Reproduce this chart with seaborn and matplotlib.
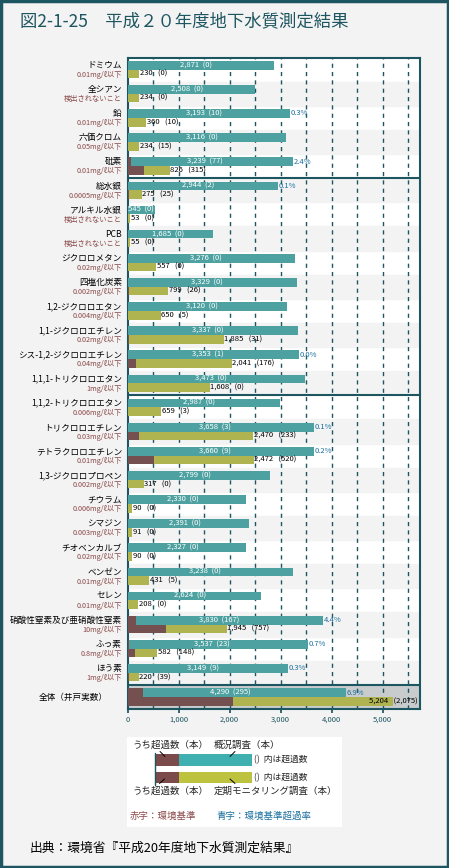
import matplotlib.pyplot as plt
import matplotlib.patches as mpatches
from matplotlib.transforms import blended_transform_factory
import seaborn as sns
import pandas as pd

names = ["ドミウム", "全シアン", "鉛", "六価クロム", "砒素", "総水銀", "アルキル水銀", "PCB",
         "ジクロロメタン", "四塩化炭素", "1,2-ジクロロエタン", "1,1-ジクロロエチレン",
         "シス-1,2-ジクロロエチレン", "1,1,1-トリクロロエタン", "1,1,2-トリクロロエタン",
         "トリクロロエチレン", "テトラクロロエチレン", "1,3-ジクロロプロペン", "チウラム",
         "シマジン", "チオベンカルブ", "ベンゼン", "セレン", "硝酸性窒素及び亜硝酸性窒素",
         "ふっ素", "ほう素", "全体（井戸実数）"]
standards = ["0.01mg/ℓ以下", "検出されないこと", "0.01mg/ℓ以下", "0.05mg/ℓ以下", "0.01mg/ℓ以下",
             "0.0005mg/ℓ以下", "検出されないこと", "検出されないこと", "0.02mg/ℓ以下",
             "0.002mg/ℓ以下", "0.004mg/ℓ以下", "0.02mg/ℓ以下", "0.04mg/ℓ以下", "1mg/ℓ以下",
             "0.006mg/ℓ以下", "0.03mg/ℓ以下", "0.01mg/ℓ以下", "0.002mg/ℓ以下", "0.006mg/ℓ以下",
             "0.003mg/ℓ以下", "0.02mg/ℓ以下", "0.01mg/ℓ以下", "0.01mg/ℓ以下", "10mg/ℓ以下",
             "0.8mg/ℓ以下", "1mg/ℓ以下", ""]
survey = [2871, 2508, 3193, 3116, 3239, 2944, 545, 1685, 3276, 3329, 3120, 3337, 3353, 3473,
          2987, 3658, 3660, 2799, 2330, 2391, 2327, 3238, 2624, 3830, 3537, 3149, 4290]
survey_over = [0, 0, 10, 0, 77, 2, 0, 0, 0, 0, 0, 0, 1, 0, 0, 3, 9, 0, 0, 0, 0, 0, 0, 167, 23, 9, 295]
monitor = [230, 234, 360, 234, 826, 275, 53, 55, 557, 799, 650, 1885, 2041, 1608, 659, 2470, 2472,
           317, 90, 91, 90, 431, 208, 1945, 582, 220, 5204]
monitor_over = [0, 0, 10, 15, 315, 25, 0, 0, 0, 26, 5, 31, 176, 0, 3, 233, 520, 0, 0, 0, 0, 5, 0,
                757, 148, 39, 2075]
rates = ["", "", "0.3%", "", "2.4%", "0.1%", "", "", "", "", "", "", "0.0%", "", "", "0.1%", "0.2%",
         "", "", "", "", "", "", "4.4%", "0.7%", "0.3%", "6.9%"]

TEAL = "#40afaf"
OLIVE = "#bec33f"
BROWN = "#7b4a4a"
DARK = "#1d5560"
BLUE = "#1a6fa0"
RED_TXT = "#8a4848"
BG = "#f3f3f3"

sns.set_theme(style="white")
plt.rcParams["font.family"] = ["Noto Sans CJK JP", "DejaVu Sans"]

df = pd.DataFrame({
    "item": names * 2,
    "kind": ["概況調査"] * len(names) + ["定期モニタリング調査"] * len(names),
    "total": survey + monitor,
    "over": survey_over + monitor_over,
})

fig = plt.figure(figsize=(4.49, 8.68), dpi=100, facecolor=BG)
fig.patches.append(mpatches.Rectangle((0.002, 0.001), 0.996, 0.998, transform=fig.transFigure,
                                      fill=False, edgecolor=DARK, linewidth=2.5))
W, H = 449, 868
ax = fig.add_axes([127.5 / W, 1 - 709 / H, 292.5 / W, 651.5 / H])
ax.set_facecolor("white")

n = len(names)
for i in range(n):
    if i == n - 1:
        ax.axhspan(i - 0.5, i + 0.5, color="#c9cccd", zorder=0)
    elif i % 2 == 1:
        ax.axhspan(i - 0.5, i + 0.5, color=BG, zorder=0)

k0 = len(ax.patches)
sns.barplot(data=df, y="item", x="total", hue="kind", orient="h", dodge=True, width=0.72,
            palette=[TEAL, OLIVE], order=names, legend=False, ax=ax, linewidth=0)
k1 = len(ax.patches)
sns.barplot(data=df, y="item", x="over", hue="kind", orient="h", dodge=True, width=0.72,
            palette=[BROWN, BROWN], order=names, legend=False, ax=ax, linewidth=0)
for p in ax.patches[k0:k1]:
    p.set_zorder(3)
for p in ax.patches[k1:]:
    p.set_zorder(4)

xmax = 292.5 * 500 / 25.5
ax.set_xlim(0, xmax)
ax.set_ylim(n - 0.5, -0.5)
for g in range(500, 5600, 500):
    ax.axvline(g, color=DARK, lw=1, ls=(0, (3, 3)), zorder=1)
for yb in [4.5, 13.5, 25.5]:
    ax.axhline(yb, color=DARK, lw=1.5, zorder=5)

for s in ax.spines.values():
    s.set_color(DARK)
    s.set_linewidth(1.5)
ax.set_xticks(range(0, 6000, 1000))
ax.set_xticklabels([f"{v:,}" for v in range(0, 6000, 1000)], fontsize=5.5, color=DARK)
ax.tick_params(axis="x", direction="out", length=3, color=DARK, pad=2, bottom=True)
ax.set_yticks([])
ax.set_xlabel("")
ax.set_ylabel("")

trans = blended_transform_factory(ax.transAxes, ax.transData)
for i in range(n):
    if i == n - 1:
        ax.text(-0.067, i, names[i], transform=trans, ha="right", va="center", fontsize=6.2,
                color="black")
    else:
        ax.text(-0.019, i - 0.17, names[i], transform=trans, ha="right", va="center",
                fontsize=6.2, color="black")
        ax.text(-0.019, i + 0.22, standards[i], transform=trans, ha="right", va="center",
                fontsize=5.2, color=RED_TXT)
    s_lbl = f"{survey[i]:,}  ({survey_over[i]:,})"
    if survey[i] < 1000:
        ax.text(10, i - 0.18, s_lbl, ha="left", va="center", fontsize=5.5, color="white", zorder=6)
    else:
        ax.text(survey[i] * 0.47, i - 0.18, s_lbl, ha="center", va="center", fontsize=5.5,
                color="white", zorder=6)
    m_lbl = f"{monitor[i]:,}   ({monitor_over[i]:,})"
    if monitor[i] > 4800:
        ax.text(xmax - 40, i + 0.18, m_lbl, ha="right", va="center", fontsize=5.5,
                color="black", zorder=6)
    else:
        ax.text(monitor[i] + 15, i + 0.18, m_lbl, ha="left", va="center", fontsize=5.5,
                color="black", zorder=6)
    if rates[i]:
        ax.text(survey[i] + 15, i - 0.18, rates[i], ha="left", va="center", fontsize=5.5,
                color=BLUE, zorder=6)

fig.text(20 / W, 1 - 21 / H, "図2-1-25　平成２０年度地下水質測定結果", fontsize=12.5, color=DARK,
         ha="left", va="center")
fig.text(30 / W, 1 - 848 / H, "出典：環境省『平成20年度地下水質測定結果』", fontsize=9.2,
         color="black", ha="left", va="center")

# legend panel
lax = fig.add_axes([126.7 / W, 1 - 826.7 / H, 215 / W, 90 / H])
lax.set_xlim(126.7, 341.7)
lax.set_ylim(826.7, 736.7)
lax.set_facecolor("white")
lax.set_xticks([])
lax.set_yticks([])
for s in lax.spines.values():
    s.set_visible(False)
lax.add_patch(mpatches.Rectangle((155, 754), 24, 11.5, color=BROWN, lw=0))
lax.add_patch(mpatches.Rectangle((179, 754), 73, 11.5, color=TEAL, lw=0))
lax.add_patch(mpatches.Rectangle((155, 771.5), 24, 11.5, color=BROWN, lw=0))
lax.add_patch(mpatches.Rectangle((179, 771.5), 73, 11.5, color=OLIVE, lw=0))
lax.plot([155, 155], [753, 785], color=DARK, lw=1)
lax.plot([160, 165], [751.5, 756.5], color="black", lw=0.7)
lax.plot([235, 230], [751.5, 756.5], color="black", lw=0.7)
lax.plot([159.5, 164.5], [783.5, 779], color="black", lw=0.7)
lax.plot([230, 235], [779, 783.5], color="black", lw=0.7)
lax.text(132, 745.5, "うち超過数（本）", fontsize=6.8, va="center", ha="left")
lax.text(214, 745.5, "概況調査（本）", fontsize=6.8, va="center", ha="left")
lax.text(254, 760, "()  内は超過数", fontsize=6.3, va="center", ha="left")
lax.text(254, 778, "()  内は超過数", fontsize=6.3, va="center", ha="left")
lax.text(132, 791, "うち超過数（本）", fontsize=6.8, va="center", ha="left")
lax.text(214, 791, "定期モニタリング調査（本）", fontsize=6.8, va="center", ha="left")
lax.text(130, 816, "赤字：環境基準", fontsize=6.8, va="center", ha="left", color=RED_TXT)
lax.text(216, 816, "青字：環境基準超過率", fontsize=6.8, va="center", ha="left", color=BLUE)

fig.savefig("out.png", dpi=100, facecolor=BG)
